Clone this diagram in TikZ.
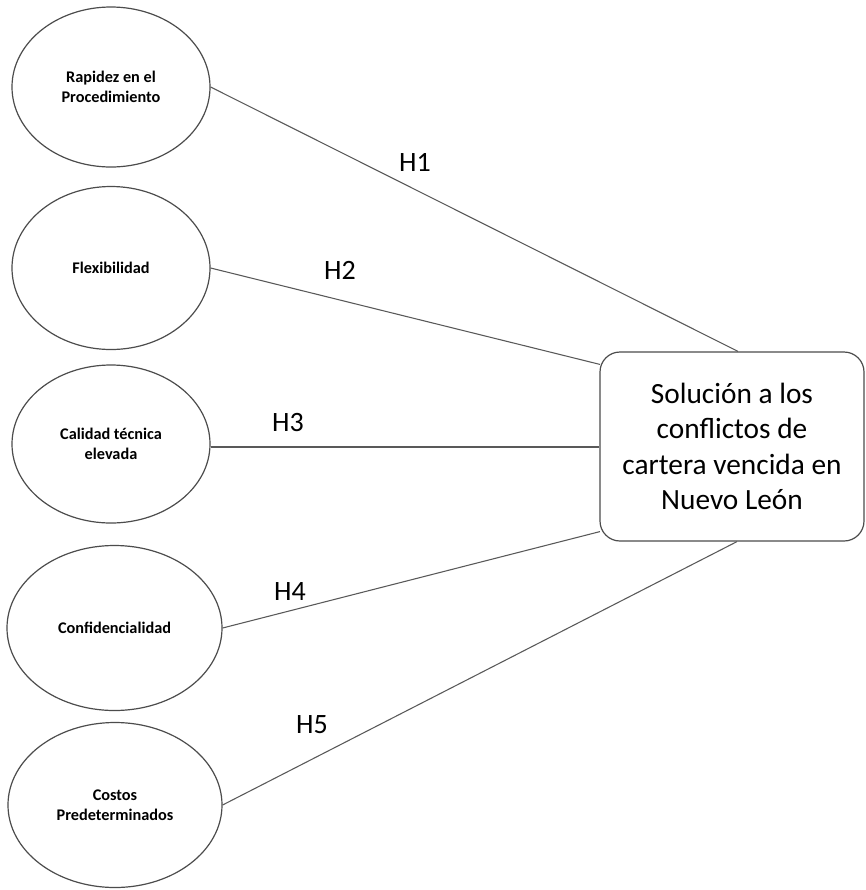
\documentclass[tikz,border=0pt]{standalone}
\usepackage{fontspec}
\setmainfont{Carlito}
\usetikzlibrary{shapes.geometric,calc}
\begin{document}
\begin{tikzpicture}[x=0.75pt,y=-0.75pt,
  var/.style={ellipse,draw=black!70,line width=0.9pt,inner sep=0pt,align=center,
    font=\fontsize{12.2}{15}\selectfont\bfseries},
  mainbox/.style={rectangle,rounded corners=15pt,draw=black!70,line width=0.9pt,
    minimum width=198pt,minimum height=141.75pt,inner sep=0pt,align=center,
    font=\fontsize{22}{26.5}\selectfont},
  link/.style={draw=black!65,line width=0.8pt},
  hyp/.style={font=\fontsize{21}{25}\selectfont,inner sep=0pt}]
\useasboundingbox[fill=white] (0,0) rectangle (866,890);
\node[var,minimum width=148.5pt,minimum height=120pt] (e1) at (111,87) {Rapidez en el\\Procedimiento};
\node[var,minimum width=148.5pt,minimum height=122.25pt] (e2) at (111,268) {Flexibilidad};
\node[var,minimum width=148.5pt,minimum height=118.5pt] (e3) at (111,444) {Calidad técnica\\elevada};
\node[var,minimum width=161.25pt,minimum height=123.75pt] (e4) at (114.5,628) {Confidencialidad};
\node[var,minimum width=160.5pt,minimum height=123.75pt] (e5) at (115,805) {Costos\\Predeterminados};
\node[mainbox] (box) at (732,446.5) {Solución a los\\conflictos de\\cartera vencida en\\Nuevo León};
\coordinate (t1) at ($(box.north)+(6,0)$);
\coordinate (t2) at ($(box.north west)+(0.5,13)$);
\coordinate (t4) at ($(box.south west)+(0.5,-10)$);
\coordinate (t5) at ($(box.south)+(5,0)$);
\draw[link] (e1.east) -- (t1);
\draw[link] (e2.east) -- (t2);
\draw[link] (e3.east |- 0,447) -- (box.west |- 0,447);
\draw[link] (e4.east) -- (t4);
\draw[link] (e5.east) -- (t5);
\node[hyp] (h1) at (415,162) {H1};
\node[hyp] (h2) at (340,270) {H2};
\node[hyp] (h3) at (288,423) {H3};
\node[hyp] (h4) at (290,592) {H4};
\node[hyp] (h5) at (312,725) {H5};
\end{tikzpicture}
\end{document}
